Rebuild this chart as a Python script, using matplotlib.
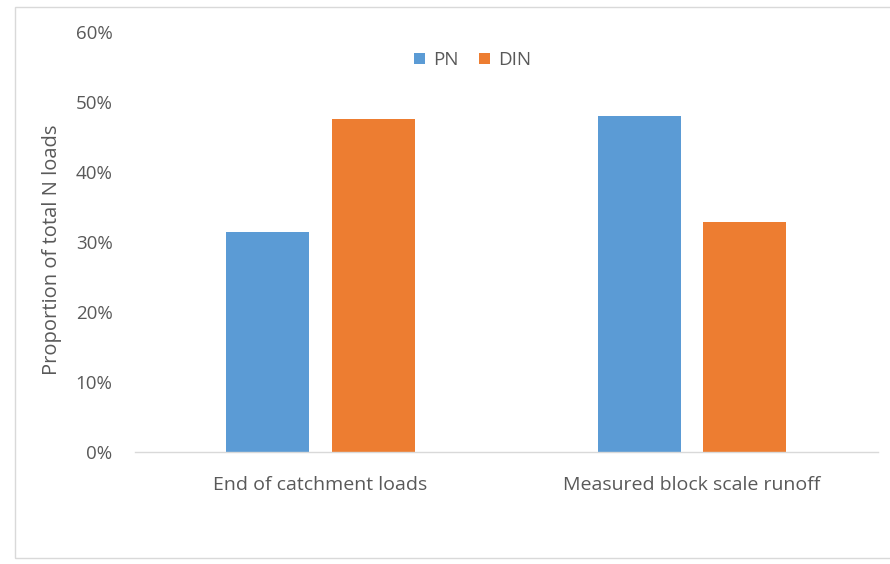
import matplotlib.pyplot as plt
from matplotlib.patches import Rectangle
from matplotlib.ticker import PercentFormatter

categories = ['End of catchment loads', 'Measured block scale runoff']
pn = [31.4, 48.0]
din = [47.6, 32.9]
yticks = [0, 10, 20, 30, 40, 50, 60]

plt.rcParams['font.family'] = ['Open Sans', 'DejaVu Sans']
grey = '#595959'

fig = plt.figure(figsize=(8.9, 5.64), dpi=100)
ax = fig.add_axes([0.1514, 0.1986, 0.8348, 0.7447])

x = range(len(categories))
w = 0.224
off = 0.142
ax.bar([i - off for i in x], pn, width=w, color='#5B9BD5', label='PN')
ax.bar([i + off for i in x], din, width=w, color='#ED7D31', label='DIN')

ax.set_xlim(-0.5, 1.5)
ax.set_ylim(0, 60)
ax.set_yticks(yticks)
ax.yaxis.set_major_formatter(PercentFormatter(decimals=0))
ax.set_xticks(list(x))
ax.set_xticklabels(categories)

for s in ['top', 'right', 'left']:
    ax.spines[s].set_visible(False)
ax.spines['bottom'].set_color('#D9D9D9')
ax.spines['bottom'].set_linewidth(1.0)
ax.tick_params(axis='y', length=0, pad=16, labelsize=13.5, labelcolor=grey)
ax.tick_params(axis='x', length=0, pad=17, labelsize=14, labelcolor=grey)

fig.text(0.058, 1 - 250 / 564, 'Proportion of total N loads', rotation=90,
         ha='center', va='center', fontsize=14.5, color=grey)

ax.legend(loc='center', bbox_to_anchor=(0.455, (564 - 60 - 112) / 420), ncol=2,
          frameon=False, fontsize=13.5, labelcolor=grey, handlelength=0.55,
          handleheight=0.55, columnspacing=1.1, handletextpad=0.45)

# light frame round the chart, running off the right edge
fig.patches.append(Rectangle((15 / 890, 1 - 558 / 564), 0.99, 551 / 564,
                             transform=fig.transFigure, fill=False,
                             edgecolor='#D9D9D9', linewidth=1.0))

fig.savefig('out.png', dpi=100, facecolor='white')
